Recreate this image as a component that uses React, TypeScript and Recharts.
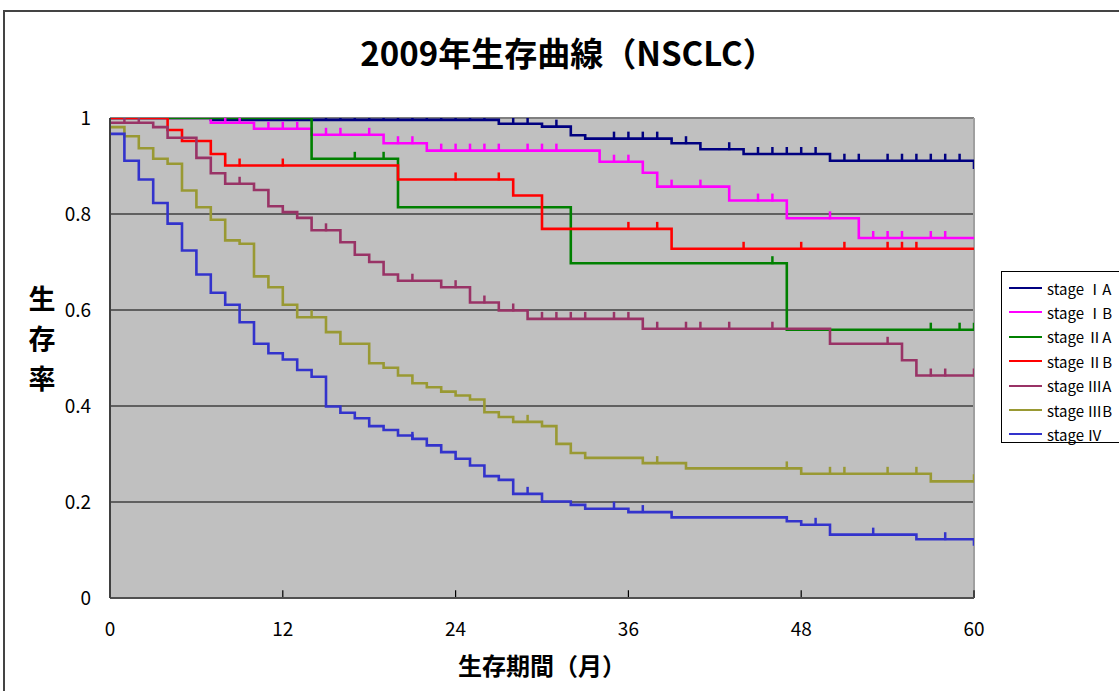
import React from 'react';
import { ComposedChart, Line, Scatter, XAxis, YAxis, CartesianGrid, ReferenceLine } from 'recharts';

const FONT = "'Noto Sans CJK JP', 'Noto Sans', sans-serif";

const stageNames = ['stage ⅠA', 'stage ⅠB', 'stage ⅡA', 'stage ⅡB', 'stage ⅢA', 'stage ⅢB', 'stage Ⅳ'];
const stageColors = ['#000080', '#FF00FF', '#008000', '#FF0000', '#993366', '#999933', '#3333CC'];

const xTicks = [0, 12, 24, 36, 48, 60];
const yTicks = [0, 0.2, 0.4, 0.6, 0.8, 1];

// stage IA
const iaMonths = [0, 7, 27, 30, 32, 33, 39, 41, 44, 50, 60];
const iaSurv = [1, 0.996, 0.988, 0.982, 0.964, 0.957, 0.9475, 0.935, 0.925, 0.911, 0.894];
const iaCensor = [15, 16, 17, 18, 19, 20, 21, 22, 23, 24, 25, 26, 28, 29, 31, 35, 36, 37, 38, 40, 43, 45, 46, 47, 48, 49, 51, 52, 54, 55, 56, 57, 58, 59];

// stage IB
const ibMonths = [0, 7, 10, 14, 19, 22, 34, 37, 38, 43, 47, 52, 60];
const ibSurv = [1, 0.99, 0.9775, 0.965, 0.9475, 0.932, 0.909, 0.886, 0.857, 0.828, 0.791, 0.75, 0.75];
const ibCensor = [8, 9, 11, 12, 13, 15, 16, 18, 20, 21, 23, 24, 25, 26, 27, 29, 30, 31, 35, 36, 39, 41, 45, 46, 50, 53, 54, 55, 57, 58];

// stage IIA
const iiaMonths = [0, 14, 20, 32, 47, 60];
const iiaSurv = [1, 0.915, 0.814, 0.6975, 0.559, 0.559];
const iiaCensor = [17, 19, 46, 57, 59, 60];

// stage IIB
const iibMonths = [0, 4, 5, 7, 8, 20, 28, 30, 39, 60];
const iibSurv = [1, 0.975, 0.952, 0.925, 0.901, 0.872, 0.8385, 0.769, 0.7275, 0.7275];
const iibCensor = [9, 12, 24, 27, 36, 38, 44, 48, 51, 54, 55, 56];

// stage IIIA
const iiiaMonths = [0, 3, 4, 6, 7, 8, 10, 11, 12, 13, 14, 16, 17, 18, 19, 20, 23, 25, 27, 29, 37, 50, 55, 56, 60];
const iiiaSurv = [0.99, 0.981, 0.959, 0.917, 0.885, 0.863, 0.85, 0.816, 0.804, 0.792, 0.766, 0.741, 0.715, 0.7, 0.674, 0.661, 0.6475, 0.6156, 0.599, 0.5815, 0.561, 0.5296, 0.4954, 0.4635, 0.4635];
const iiiaCensor = [1, 2, 9, 15, 21, 24, 26, 28, 30, 31, 32, 33, 35, 36, 38, 40, 41, 43, 46, 54, 57, 58, 60];

// stage IIIB
const iiibMonths = [0, 1, 2, 3, 4, 5, 6, 7, 8, 9, 10, 11, 12, 13, 15, 16, 18, 19, 20, 21, 22, 23, 24, 25, 26, 27, 28, 30, 31, 32, 33, 37, 40, 48, 57, 60];
const iiibSurv = [0.981, 0.962, 0.937, 0.915, 0.9046, 0.849, 0.814, 0.788, 0.745, 0.738, 0.67, 0.6475, 0.611, 0.585, 0.554, 0.5296, 0.489, 0.4796, 0.4635, 0.4475, 0.439, 0.43, 0.422, 0.4135, 0.387, 0.377, 0.367, 0.358, 0.321, 0.302, 0.292, 0.281, 0.27, 0.2587, 0.243, 0.243];
const iiibCensor = [14, 29, 38, 47, 50, 51, 54, 56, 60];

// stage IV
const ivMonths = [0, 1, 2, 3, 4, 5, 6, 7, 8, 9, 10, 11, 12, 13, 14, 15, 16, 17, 18, 19, 20, 21, 22, 23, 24, 25, 26, 27, 28, 30, 32, 33, 36, 39, 47, 48, 50, 56, 60];
const ivSurv = [0.967, 0.911, 0.872, 0.823, 0.78, 0.724, 0.674, 0.636, 0.611, 0.5746, 0.5296, 0.51, 0.497, 0.475, 0.461, 0.399, 0.386, 0.3746, 0.358, 0.35, 0.3385, 0.3316, 0.318, 0.304, 0.29, 0.276, 0.254, 0.246, 0.217, 0.201, 0.194, 0.186, 0.179, 0.168, 0.16, 0.1525, 0.132, 0.1225, 0.109];
const ivCensor = [21, 29, 35, 37, 49, 53, 58];

const stageMonths = [iaMonths, ibMonths, iiaMonths, iibMonths, iiiaMonths, iiibMonths, ivMonths];
const stageSurv = [iaSurv, ibSurv, iiaSurv, iibSurv, iiiaSurv, iiibSurv, ivSurv];
const stageCensor = [iaCensor, ibCensor, iiaCensor, iibCensor, iiiaCensor, iiibCensor, ivCensor];

const survAt = (months: number[], surv: number[], t: number) => {
  let v = surv[0];
  for (let i = 0; i < months.length; i++) {
    if (months[i] <= t && !(i === months.length - 1 && months[i] === t && i > 0 && months[i - 1] < t && false)) v = surv[i];
  }
  return v;
};

const series = stageNames.map((name, i) => ({
  name,
  color: stageColors[i],
  line: stageMonths[i].map((m, j) => ({ x: m, y: stageSurv[i][j] })),
  censor: stageCensor[i].map((m) => ({ x: m, y: survAt(stageMonths[i], stageSurv[i], m) })),
}));

const makeMark = (color: string) => (props: any) => {
  const { cx, cy } = props;
  if (cx == null || cy == null) return <g />;
  return <line x1={cx} x2={cx} y1={cy - 7} y2={cy + 1} stroke={color} strokeWidth={2.5} />;
};

export default function App() {
  return (
    <div style={{ position: 'absolute', left: 0, top: 0, width: 1119, height: 691, background: '#fff', overflow: 'hidden', fontFamily: FONT }}>
      <div style={{ position: 'absolute', left: 3, top: 10, width: 1300, height: 900, borderTop: '2px solid #444', borderLeft: '2px solid #444' }} />
      <div style={{ position: 'absolute', left: 568, top: 28, transform: 'translateX(-50%)', whiteSpace: 'nowrap', fontSize: 33, fontWeight: 700, color: '#000', lineHeight: '48px' }}>
        2009年生存曲線（NSCLC）
      </div>
      <div style={{ position: 'absolute', left: 28, top: 278, width: 28, fontSize: 27, fontWeight: 700, lineHeight: '40px', textAlign: 'center' }}>
        <div>生</div><div>存</div><div>率</div>
      </div>
      <div style={{ position: 'absolute', left: 542, top: 648, transform: 'translateX(-50%)', whiteSpace: 'nowrap', fontSize: 24, fontWeight: 700, lineHeight: '34px' }}>
        生存期間（月）
      </div>
      <div style={{ position: 'absolute', left: 0, top: 0 }}>
        <ComposedChart width={1119} height={691} margin={{ top: 118, right: 145, bottom: 53, left: 50 }}>
          <CartesianGrid horizontal vertical={false} stroke="#000" strokeWidth={1.2} fill="#C0C0C0" fillOpacity={1} />
          <XAxis dataKey="x" type="number" domain={[0, 60]} ticks={xTicks} interval={0} height={40} allowDataOverflow
            axisLine={{ stroke: '#505050', strokeWidth: 2 }} tickLine={false} tickSize={6} tickMargin={19}
            tick={{ fill: '#000', fontSize: 19, fontFamily: FONT }} />
          <YAxis dataKey="y" type="number" domain={[0, 1]} ticks={yTicks} interval={0} width={60} allowDataOverflow
            axisLine={{ stroke: '#404040', strokeWidth: 2 }} tickLine={false} tickSize={6} tickMargin={13}
            tick={{ fill: '#000', fontSize: 19, fontFamily: FONT }} />
          <ReferenceLine y={1} stroke="#808080" strokeWidth={2} />
          <ReferenceLine x={60} stroke="#A0A0A0" strokeWidth={2} />
          {xTicks.slice(1).map((t) => (
            <ReferenceLine key={'xt' + t} segment={[{ x: t, y: 0 }, { x: t, y: 0.016 }]} stroke="#000" strokeWidth={1.2} />
          ))}
          {series.map((s) => (
            <Line key={'l' + s.name} data={s.line} dataKey="y" type="stepAfter" stroke={s.color} strokeWidth={2.6}
              dot={false} activeDot={false} isAnimationActive={false} legendType="none" />
          ))}
          {series.map((s) => (
            <Scatter key={'c' + s.name} data={s.censor} dataKey="y" fill={s.color} shape={makeMark(s.color)} isAnimationActive={false} legendType="none" />
          ))}
        </ComposedChart>
      </div>
      <div style={{ position: 'absolute', left: 1001, top: 271, width: 200, height: 170, border: '1px solid #000', background: '#fff' }}>
        {series.map((s, i) => (
          <div key={'lg' + s.name} style={{ position: 'absolute', left: 0, top: 4 + i * 24.4, height: 24, display: 'flex', alignItems: 'center' }}>
            <div style={{ marginLeft: 7, width: 33, height: 0, borderTop: `2.6px solid ${s.color}` }} />
            <div style={{ marginLeft: 5, fontSize: 15, whiteSpace: 'nowrap', color: '#000' }}>{s.name}</div>
          </div>
        ))}
      </div>
    </div>
  );
}
